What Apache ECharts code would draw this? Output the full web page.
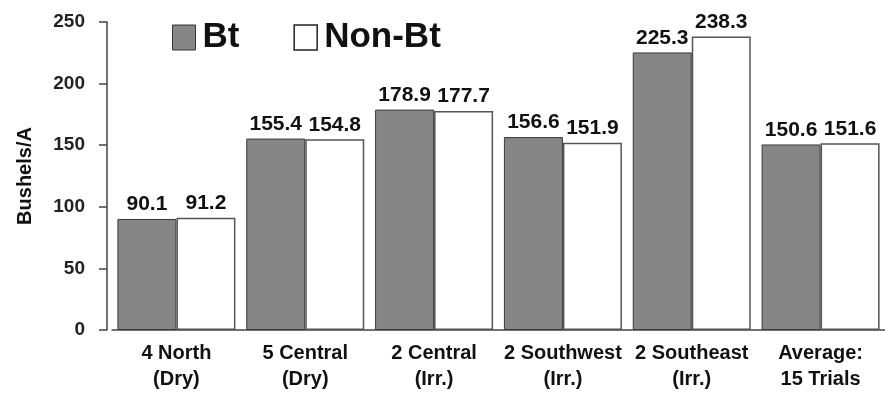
<!DOCTYPE html>
<html><head><meta charset="utf-8">
<script src="https://cdn.jsdelivr.net/npm/echarts@6/dist/echarts.min.js"></script>
<style>html,body{margin:0;padding:0;background:#fff}#c{width:885px;height:401px}</style>
</head><body><div id="c"></div>
<script>
const categories = ['4 North\n(Dry)', '5 Central\n(Dry)', '2 Central\n(Irr.)', '2 Southwest\n(Irr.)', '2 Southeast\n(Irr.)', 'Average:\n15 Trials'];
const btValues = [90.1, 155.4, 178.9, 156.6, 225.3, 150.6];
const nonBtValues = [91.2, 154.8, 177.7, 151.9, 238.3, 151.6];
const yTicks = { min: 0, max: 250, interval: 50 };

const FONT = '"Liberation Sans", Arial, sans-serif';
const chart = echarts.init(document.getElementById('c'), null, { renderer: 'canvas' });
const labelStyle = { show: true, position: 'top', distance: 4, fontFamily: FONT, fontWeight: 'bold', fontSize: 21, color: '#111', formatter: p => p.value.toFixed(1) };
chart.setOption({
  animation: false,
  backgroundColor: '#fff',
  textStyle: { fontFamily: FONT },
  legend: {
    left: 167, top: 15, itemWidth: 23, itemHeight: 25, itemGap: 54,
    textStyle: { fontFamily: FONT, fontWeight: 'bold', fontSize: 35, lineHeight: 26, color: '#111', padding: [0, 0, 0, 2] },
    data: [
      { name: 'Bt', icon: 'rect', itemStyle: { color: '#868686', borderColor: '#333', borderWidth: 1 } },
      { name: 'Non-Bt', icon: 'rect', itemStyle: { color: '#fff', borderColor: '#222', borderWidth: 1.5 } }
    ]
  },
  grid: { left: 112, top: 22, width: 780, bottom: 71, containLabel: false },
  xAxis: {
    type: 'category', data: categories,
    axisLine: { lineStyle: { color: '#444', width: 1.5 } },
    axisTick: { show: false },
    axisLabel: { interval: 0, margin: 10, fontFamily: FONT, fontWeight: 'bold', fontSize: 20, lineHeight: 26, color: '#111' }
  },
  yAxis: {
    type: 'value', min: yTicks.min, max: yTicks.max, interval: yTicks.interval,
    offset: 5,
    name: 'Bushels/A', nameLocation: 'middle', nameRotate: 90, nameGap: 72,
    nameTextStyle: { fontFamily: FONT, fontWeight: 'bold', fontSize: 20, color: '#111' },
    axisLine: { show: true, lineStyle: { color: '#444', width: 1.5 } },
    axisTick: { show: true, length: 8, lineStyle: { color: '#444', width: 1.5 } },
    splitLine: { show: false },
    axisLabel: { margin: 22, fontFamily: FONT, fontWeight: 'bold', fontSize: 19, color: '#222' }
  },
  series: [
    { name: 'Bt', type: 'bar', data: btValues, barWidth: 59, barGap: '0%',
      itemStyle: { color: '#868686', borderColor: '#3a3a3a', borderWidth: 1 }, label: labelStyle },
    { name: 'Non-Bt', type: 'bar', data: nonBtValues, barWidth: 59, barGap: '0%',
      itemStyle: { color: '#fff', borderColor: '#555', borderWidth: 1.5 }, label: labelStyle }
  ]
});
</script></body></html>
